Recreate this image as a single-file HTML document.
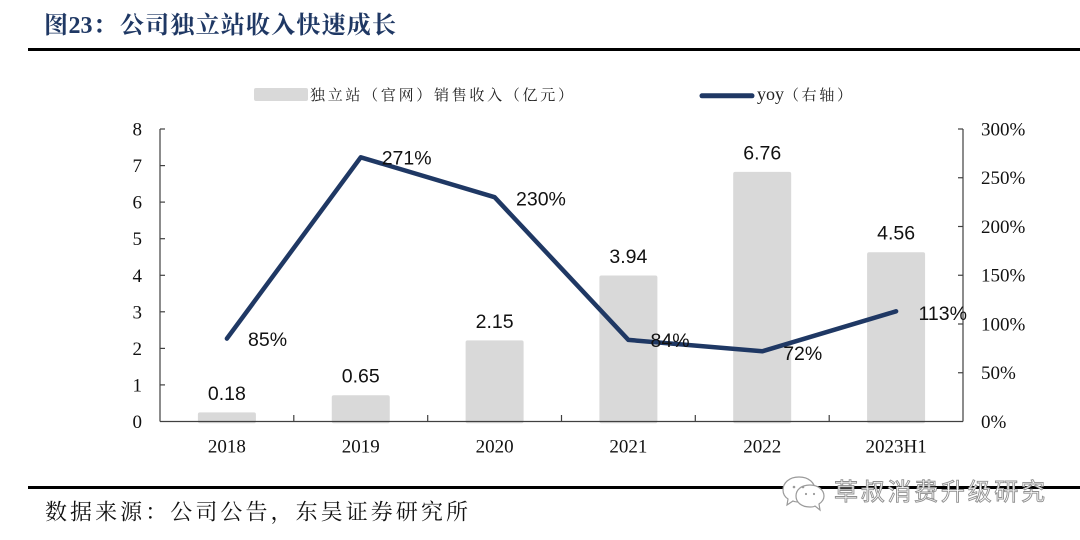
<!DOCTYPE html>
<html>
<head>
<meta charset="utf-8">
<style>
html,body{margin:0;padding:0;background:#fff;}
svg{display:block;}
</style>
</head>
<body>
<svg width="1080" height="540" viewBox="0 0 1080 540" xmlns="http://www.w3.org/2000/svg">
<rect width="1080" height="540" fill="#fff"/>

<!-- Title -->
<text y="33" font-size="24" font-weight="bold" fill="#1f3864" font-family="'Liberation Serif','Noto Serif CJK SC',serif">
  <tspan x="44">图</tspan><tspan x="68.5">23</tspan><tspan x="93">：</tspan><tspan x="120" textLength="276" lengthAdjust="spacing">公司独立站收入快速成长</tspan>
</text>
<rect x="28" y="48" width="1052" height="3" fill="#000"/>

<!-- Legend -->
<rect x="254" y="88" width="54" height="13" rx="2" fill="#d9d9d9"/>
<text x="310" y="100" font-size="15" fill="#222" textLength="263" lengthAdjust="spacing" font-family="'Noto Serif CJK SC',serif">独立站（官网）销售收入（亿元）</text>
<line x1="702" y1="95.8" x2="752" y2="95.8" stroke="#1f3864" stroke-width="5" stroke-linecap="round"/>
<text x="757" y="100" font-size="18" fill="#222" font-family="'Liberation Serif',serif">yoy</text>
<text x="784" y="100" font-size="15" fill="#222" textLength="68" lengthAdjust="spacing" font-family="'Noto Serif CJK SC',serif">（右轴）</text>

<!-- Bars -->
<g fill="#d9d9d9">
  <rect x="197.9" y="412.4" width="58" height="10.9" rx="2"/>
  <rect x="331.75" y="395.2" width="58" height="28.1" rx="2"/>
  <rect x="465.6" y="340.4" width="58" height="82.9" rx="2"/>
  <rect x="599.4" y="275.5" width="58" height="147.8" rx="2"/>
  <rect x="733.2" y="171.9" width="58" height="251.4" rx="2"/>
  <rect x="867.1" y="252.3" width="58" height="171" rx="2"/>
</g>

<!-- Axes -->
<g stroke="#404040" stroke-width="1.2" fill="none">
  <line x1="160" y1="129" x2="160" y2="421.5"/>
  <line x1="963" y1="129" x2="963" y2="421.5"/>
  <line x1="160" y1="421.5" x2="963" y2="421.5"/>
  <!-- left ticks -->
  <line x1="160" y1="129" x2="165" y2="129"/>
  <line x1="160" y1="165.6" x2="165" y2="165.6"/>
  <line x1="160" y1="202.1" x2="165" y2="202.1"/>
  <line x1="160" y1="238.7" x2="165" y2="238.7"/>
  <line x1="160" y1="275.3" x2="165" y2="275.3"/>
  <line x1="160" y1="311.8" x2="165" y2="311.8"/>
  <line x1="160" y1="348.4" x2="165" y2="348.4"/>
  <line x1="160" y1="384.9" x2="165" y2="384.9"/>
  <!-- right ticks -->
  <line x1="958" y1="129" x2="963" y2="129"/>
  <line x1="958" y1="177.75" x2="963" y2="177.75"/>
  <line x1="958" y1="226.5" x2="963" y2="226.5"/>
  <line x1="958" y1="275.25" x2="963" y2="275.25"/>
  <line x1="958" y1="324" x2="963" y2="324"/>
  <line x1="958" y1="372.75" x2="963" y2="372.75"/>
  <!-- x ticks -->
  <line x1="293.8" y1="421.5" x2="293.8" y2="415"/>
  <line x1="427.7" y1="421.5" x2="427.7" y2="415"/>
  <line x1="561.5" y1="421.5" x2="561.5" y2="415"/>
  <line x1="695.3" y1="421.5" x2="695.3" y2="415"/>
  <line x1="829.2" y1="421.5" x2="829.2" y2="415"/>
</g>

<!-- Left axis labels -->
<g font-family="'Liberation Serif',serif" font-size="19" fill="#111" text-anchor="end">
  <text x="142" y="135.5">8</text>
  <text x="142" y="172">7</text>
  <text x="142" y="208.6">6</text>
  <text x="142" y="245.2">5</text>
  <text x="142" y="281.8">4</text>
  <text x="142" y="318.3">3</text>
  <text x="142" y="354.9">2</text>
  <text x="142" y="391.4">1</text>
  <text x="142" y="428">0</text>
</g>
<!-- Right axis labels -->
<g font-family="'Liberation Serif',serif" font-size="19" fill="#111">
  <text x="981" y="135.5">300%</text>
  <text x="981" y="184.2">250%</text>
  <text x="981" y="233">200%</text>
  <text x="981" y="281.7">150%</text>
  <text x="981" y="330.5">100%</text>
  <text x="981" y="379.2">50%</text>
  <text x="981" y="428">0%</text>
</g>
<!-- X labels -->
<g font-family="'Liberation Serif',serif" font-size="19" fill="#111" text-anchor="middle">
  <text x="226.9" y="452.7">2018</text>
  <text x="360.75" y="452.7">2019</text>
  <text x="494.6" y="452.7">2020</text>
  <text x="628.4" y="452.7">2021</text>
  <text x="762.2" y="452.7">2022</text>
  <text x="896.1" y="452.7">2023H1</text>
</g>

<!-- Line -->
<polyline points="226.9,338.6 360.75,157.3 494.6,197.2 628.4,339.9 762.2,351.3 896.1,311.3" fill="none" stroke="#1f3864" stroke-width="4.5" stroke-linejoin="round" stroke-linecap="round"/>

<!-- Data labels -->
<g font-family="'Liberation Sans',sans-serif" font-size="19.5" fill="#111">
  <g text-anchor="middle">
    <text x="226.9" y="400">0.18</text>
    <text x="360.75" y="382.7">0.65</text>
    <text x="494.6" y="328.2">2.15</text>
    <text x="628.4" y="263">3.94</text>
    <text x="762.2" y="159.4">6.76</text>
    <text x="896.1" y="239.6">4.56</text>
  </g>
  <text x="248" y="346">85%</text>
  <text x="381.7" y="164.3">271%</text>
  <text x="516" y="205.5">230%</text>
  <text x="650.5" y="346.8">84%</text>
  <text x="783.2" y="360">72%</text>
  <text x="918.5" y="320">113%</text>
</g>

<!-- Bottom rule -->
<rect x="28" y="486" width="1052" height="3" fill="#000"/>

<!-- Source -->
<text x="45" y="519.5" font-size="22" fill="#111" textLength="423" lengthAdjust="spacing" font-family="'Noto Serif CJK SC',serif">数据来源：公司公告，东吴证券研究所</text>

<!-- Watermark -->
<g stroke="#9a9a9a" stroke-width="1.2" fill="#fff">
  <path d="M799,477 C789,477 783,483 783,490 C783,494 785,497 788,499 L787,505 L793,501 C795,502 797,502 799,502 C809,502 815,496 815,490 C815,483 809,477 799,477 Z"/>
  <path d="M810,485 C801,485 796,490 796,496 C796,502 801,507 810,507 C812,507 814,507 815,506 L820,510 L819,504 C822,502 824,499 824,496 C824,490 818,485 810,485 Z"/>
</g>
<g fill="#9a9a9a">
  <circle cx="794" cy="487" r="1.3"/><circle cx="803" cy="487" r="1.3"/>
  <circle cx="806" cy="494" r="1.1"/><circle cx="814" cy="494" r="1.1"/>
</g>
<text x="834" y="500" font-size="24" fill="#fff" stroke="#8f8f8f" stroke-width="0.9" textLength="211" lengthAdjust="spacing" font-family="'Noto Sans CJK SC',sans-serif">草叔消费升级研究</text>
</svg>
</body>
</html>
